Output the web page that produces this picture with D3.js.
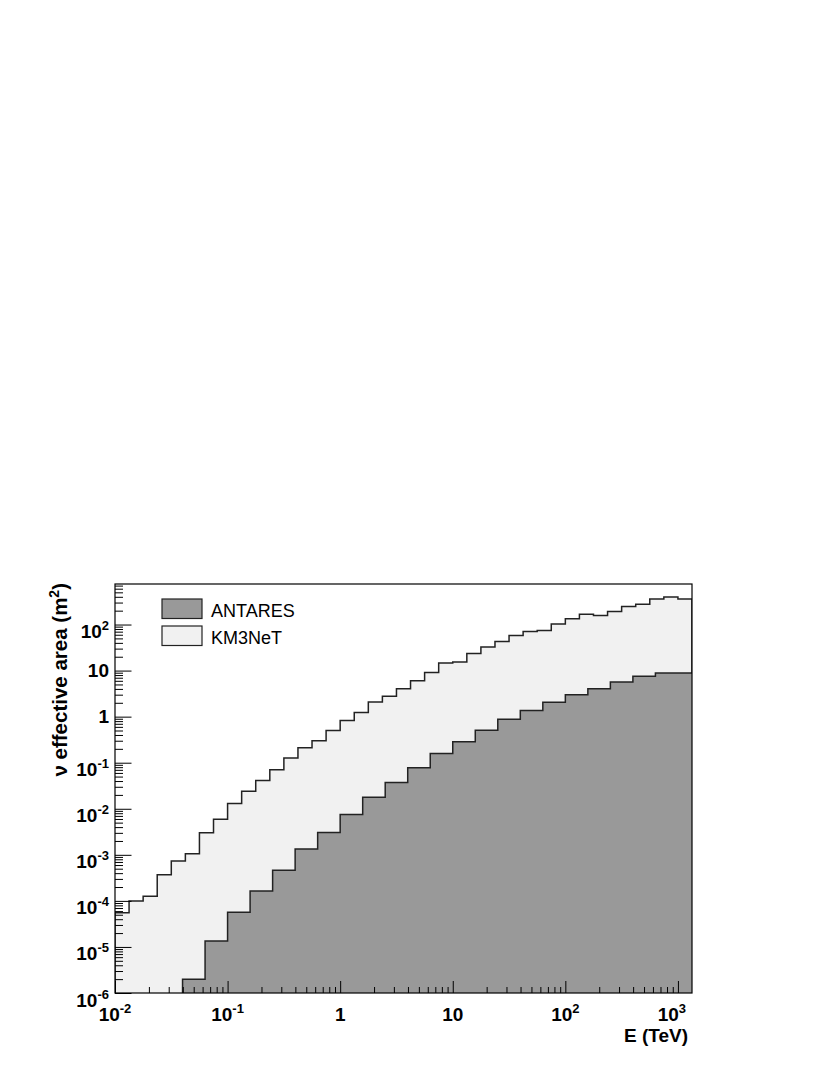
<!DOCTYPE html>
<html>
<head>
<meta charset="utf-8">
<script src="https://cdn.jsdelivr.net/npm/d3@7"></script>
<style>
  html, body { margin: 0; padding: 0; background: #fff; }
  svg { display: block; font-family: "Liberation Sans", Arial, Helvetica, sans-serif; }
</style>
</head>
<body>
<svg id="chart" width="830" height="1075"></svg>
<script>
// ---- data ----
// KM3NeT: 8 log-bins per decade starting at 1e-2 TeV
const km3netFirstEdgeExp = -2;
const km3netBinsPerDecade = 8;
const km3netValues = [
  5.5e-5, 1.0e-4, 1.26e-4, 3.7e-4, 7.3e-4, 1.05e-3, 3.0e-3, 5.9e-3,
  0.013, 0.024, 0.041, 0.0705, 0.126, 0.21, 0.30, 0.50,
  0.82, 1.23, 2.09, 2.77, 4.05, 6.0, 9.1, 14.6,
  15.4, 23.6, 32.4, 42.9, 57.8, 70.5, 74, 103,
  133, 168, 157, 191, 245, 277, 360, 398,
  360
];
// ANTARES: 5 log-bins per decade, first filled bin starts at 10^-1.4 TeV
const antaresFirstEdgeExp = -1.4;
const antaresBinsPerDecade = 5;
const antaresValues = [
  2.0e-6, 1.35e-5, 5.7e-5, 1.64e-4, 4.6e-4, 1.33e-3, 3.05e-3, 7.5e-3,
  0.0177, 0.037, 0.078, 0.159, 0.284, 0.508, 0.88, 1.36,
  2.05, 3.0, 4.05, 5.66, 7.5, 8.9, 8.9
];
const seriesNames = ["ANTARES", "KM3NeT"];
const seriesColors = ["#999999", "#f1f1f1"];
const xTickExps = [-2, -1, 0, 1, 2, 3];
const yTickExps = [-6, -5, -4, -3, -2, -1, 0, 1, 2];
const xTitle = "E (TeV)";
const yTitle = "\u03bd effective area (m";

// ---- layout ----
const L = 115, R = 692, T = 584, B = 993;
const svg = d3.select("#chart");

const x = d3.scaleLog().domain([1e-2, Math.pow(10, 3.125)]).range([L, R]);
const y = d3.scaleLog().domain([1e-6, Math.pow(10, 2.88)]).range([B, T]);

svg.append("defs").append("clipPath").attr("id", "frameClip")
  .append("rect").attr("x", L).attr("y", T).attr("width", R - L).attr("height", B - T);

function edges(firstExp, perDecade, n) {
  return d3.range(n + 1).map(i => Math.pow(10, firstExp + i / perDecade));
}
function histPath(vals, ed) {
  const p = d3.path();
  p.moveTo(x(ed[0]), B);
  vals.forEach((v, i) => {
    p.lineTo(x(ed[i]), y(v));
    p.lineTo(x(ed[i + 1]), y(v));
  });
  p.lineTo(x(ed[vals.length]), B);
  return p.toString();
}

const kmEdges = edges(km3netFirstEdgeExp, km3netBinsPerDecade, km3netValues.length);
const anEdges = edges(antaresFirstEdgeExp, antaresBinsPerDecade, antaresValues.length);

const plot = svg.append("g").attr("clip-path", "url(#frameClip)");
plot.append("path").attr("d", histPath(km3netValues, kmEdges) + "Z")
  .attr("fill", seriesColors[1]).attr("stroke", "none");
plot.append("path").attr("d", histPath(km3netValues, kmEdges))
  .attr("fill", "none").attr("stroke", "#222").attr("stroke-width", 1.5);
plot.append("path").attr("d", histPath(antaresValues, anEdges) + "Z")
  .attr("fill", seriesColors[0]).attr("stroke", "none");
plot.append("path").attr("d", histPath(antaresValues, anEdges))
  .attr("fill", "none").attr("stroke", "#222").attr("stroke-width", 1.5);

// ---- ticks via d3 axes ----
function minorTicks(domain) {
  const out = [];
  const lo = Math.floor(Math.log10(domain[0])), hi = Math.ceil(Math.log10(domain[1]));
  for (let k = lo; k <= hi; k++) for (let m = 2; m <= 9; m++) {
    const v = m * Math.pow(10, k);
    if (v > domain[0] && v < domain[1]) out.push(v);
  }
  return out;
}
const yMajor = yTickExps.map(e => Math.pow(10, e));
const xMajor = xTickExps.map(e => Math.pow(10, e));

function styleAxis(g) {
  g.select(".domain").remove();
  g.selectAll(".tick line").attr("stroke", "#000").attr("stroke-width", 1);
}
svg.append("g").attr("transform", `translate(${L},0)`)
  .call(d3.axisLeft(y).tickValues(minorTicks(y.domain())).tickSize(-8).tickFormat(""))
  .call(styleAxis);
svg.append("g").attr("transform", `translate(${L},0)`)
  .call(d3.axisLeft(y).tickValues(yMajor).tickSize(-16.5).tickFormat(""))
  .call(styleAxis);
svg.append("g").attr("transform", `translate(0,${B})`)
  .call(d3.axisBottom(x).tickValues(minorTicks(x.domain())).tickSize(-6).tickFormat(""))
  .call(styleAxis);
svg.append("g").attr("transform", `translate(0,${B})`)
  .call(d3.axisBottom(x).tickValues(xMajor).tickSize(-12).tickFormat(""))
  .call(styleAxis);

// frame
svg.append("rect").attr("x", L).attr("y", T).attr("width", R - L).attr("height", B - T)
  .attr("fill", "none").attr("stroke", "#000").attr("stroke-width", 1.2);

// ---- tick labels ----
function addPowLabel(sel, e) {
  if (e === 0) { sel.append("tspan").text("1"); return false; }
  if (e === 1) { sel.append("tspan").text("10"); return false; }
  sel.append("tspan").text("10");
  sel.append("tspan").attr("dy", -8).attr("font-size", 13).text(String(e));
  return true;
}
xTickExps.forEach((e, i) => {
  const last = i === xTickExps.length - 1;
  const t = svg.append("text")
    .attr("x", last ? R - 6 : x(Math.pow(10, e)))
    .attr("y", 1020.5)
    .attr("text-anchor", last ? "end" : "middle")
    .attr("font-weight", "bold").attr("font-size", 19);
  addPowLabel(t, e);
});
yTickExps.forEach(e => {
  const ty = y(Math.pow(10, e));
  const t = svg.append("text").attr("x", 109)
    .attr("text-anchor", "end").attr("font-weight", "bold").attr("font-size", 19);
  const isPow = addPowLabel(t, e);
  t.attr("y", ty + (isPow ? 13.5 : 6.8));
});

// ---- axis titles ----
svg.append("text").attr("x", 688).attr("y", 1042).attr("text-anchor", "end")
  .attr("font-weight", "bold").attr("font-size", 19).text(xTitle);
const yt = svg.append("text").attr("transform", "translate(67,583) rotate(-90)")
  .attr("text-anchor", "end").attr("font-weight", "bold").attr("font-size", 20.5);
yt.append("tspan").text(yTitle);
yt.append("tspan").attr("dy", -8.5).attr("font-size", 14).text("2");
yt.append("tspan").attr("dy", 8.5).text(")");

// ---- legend ----
const legY = [599, 626];
seriesNames.forEach((name, i) => {
  svg.append("rect").attr("x", 162).attr("y", legY[i]).attr("width", 40).attr("height", 19.5)
    .attr("fill", seriesColors[i]).attr("stroke", "#222").attr("stroke-width", 1.2);
  svg.append("text").attr("x", 211).attr("y", legY[i] + 17.5)
    .attr("font-size", 18).attr("fill", "#000").text(name);
});
</script>
</body>
</html>
